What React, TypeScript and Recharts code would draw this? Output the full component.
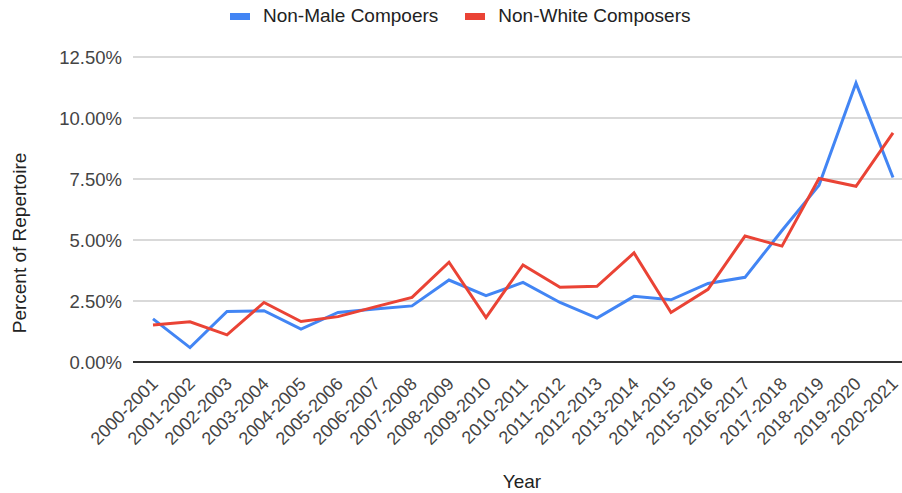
import {
  LineChart,
  Line,
  XAxis,
  YAxis,
  CartesianGrid,
  Legend,
  Label,
} from 'recharts';

const seasons = [
  '2000-2001', '2001-2002', '2002-2003', '2003-2004', '2004-2005',
  '2005-2006', '2006-2007', '2007-2008', '2008-2009', '2009-2010',
  '2010-2011', '2011-2012', '2012-2013', '2013-2014', '2014-2015',
  '2015-2016', '2016-2017', '2017-2018', '2018-2019', '2019-2020',
  '2020-2021',
];

// percent of repertoire per season
const nonMale = [
  1.77, 0.59, 2.07, 2.1, 1.35, 2.03, 2.17, 2.3, 3.36, 2.72, 3.26,
  2.44, 1.8, 2.69, 2.55, 3.22, 3.47, 5.39, 7.24, 11.43, 7.56,
];
const nonWhite = [
  1.52, 1.65, 1.11, 2.44, 1.66, 1.86, 2.26, 2.65, 4.09, 1.82, 3.98,
  3.06, 3.1, 4.47, 2.03, 2.98, 5.16, 4.75, 7.52, 7.2, 9.39,
];

const yTicks = [0, 2.5, 5, 7.5, 10, 12.5];

const BLUE = '#4285F4';
const RED = '#EA4335';
const FONT = '"Liberation Sans", Arial, sans-serif';

const chartData = seasons.map((season, i) => ({
  season,
  nonMale: nonMale[i],
  nonWhite: nonWhite[i],
}));

const series = [
  { key: 'nonMale', name: 'Non-Male Compoers', color: BLUE },
  { key: 'nonWhite', name: 'Non-White Composers', color: RED },
];

const SeasonTick = ({ x, y, payload }: any) => (
  <text
    x={x + 6}
    y={y + 15}
    transform={`rotate(-45, ${x + 6}, ${y + 15})`}
    textAnchor="end"
    fontSize={18}
    fontFamily={FONT}
    fill="#444"
  >
    {payload.value}
  </text>
);

const LegendContent = () => (
  <div style={{ display: 'flex', alignItems: 'center', fontFamily: FONT, fontSize: 19, color: '#222' }}>
    {series.map((s) => (
      <div key={s.key} style={{ display: 'flex', alignItems: 'center', marginRight: 27 }}>
        <span style={{ width: 20, height: 7, background: s.color, marginRight: 13, display: 'inline-block' }} />
        <span>{s.name}</span>
      </div>
    ))}
  </div>
);

const App = () => {
  return (
    <div style={{ position: 'absolute', left: 0, top: 0, background: '#fff' }}>
      <LineChart
        width={902}
        height={493}
        data={chartData}
        margin={{ top: 57, right: 0, left: 0, bottom: 31 }}
      >
        <CartesianGrid vertical={false} stroke="#ccc" strokeWidth={1.5} />
        <XAxis
          dataKey="season"
          interval={0}
          height={100}
          padding={{ left: 20, right: 9 }}
          tickLine={false}
          axisLine={{ stroke: '#333', strokeWidth: 2 }}
          tick={<SeasonTick />}
        >
          <Label
            content={() => (
              <text x={522} y={488} textAnchor="middle" fontSize={19} fontFamily={FONT} fill="#222">
                Year
              </text>
            )}
          />
        </XAxis>
        <YAxis
          width={133}
          domain={[0, 12.5]}
          ticks={yTicks}
          axisLine={false}
          tickLine={false}
          tickSize={0}
          tickMargin={11}
          tickFormatter={(v: number) => `${v.toFixed(2)}%`}
          tick={{ fontSize: 18.5, fontFamily: FONT, fill: '#444' }}
        >
          <Label
            content={() => (
              <text
                x={26}
                y={243}
                transform="rotate(-90, 26, 243)"
                textAnchor="middle"
                fontSize={19}
                fontFamily={FONT}
                fill="#222"
              >
                Percent of Repertoire
              </text>
            )}
          />
        </YAxis>
        <Legend
          verticalAlign="middle"
          align="center"
          wrapperStyle={{ top: 5, left: 230, width: 520 }}
          content={<LegendContent />}
        />
        {series.map((s) => (
          <Line
            key={s.key}
            type="linear"
            dataKey={s.key}
            name={s.name}
            stroke={s.color}
            strokeWidth={3}
            dot={false}
            isAnimationActive={false}
          />
        ))}
      </LineChart>
    </div>
  );
};

export default App;
